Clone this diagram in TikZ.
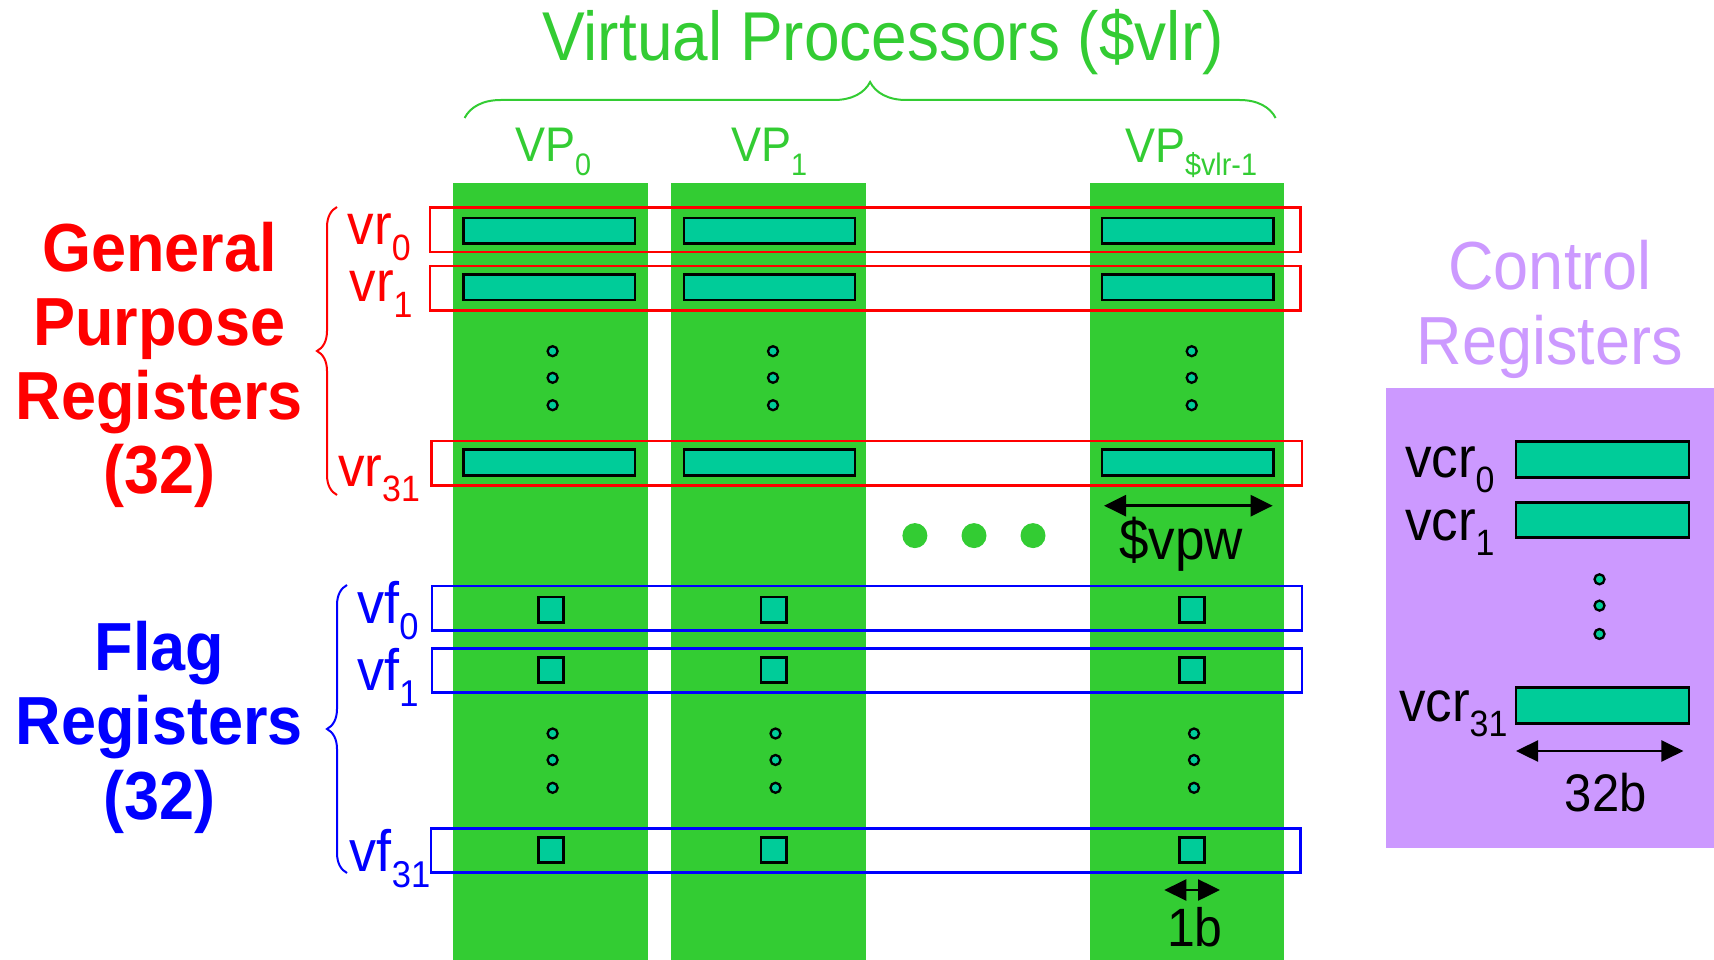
\documentclass[tikz,border=0pt]{standalone}
\usepackage{fontspec}
\setmainfont{Liberation Sans}
\usepackage{graphicx}
\usetikzlibrary{arrows.meta,decorations.pathreplacing}
\definecolor{vgreen}{HTML}{33CC33}
\definecolor{regteal}{HTML}{00CC99}
\definecolor{vred}{HTML}{FF0000}
\definecolor{vblue}{HTML}{0000FF}
\definecolor{cpurple}{HTML}{CC99FF}
\newcommand{\vs}[1]{\scalebox{1}[1.08]{#1}}
\newcommand{\lowsub}[1]{\raisebox{-0.27em}{\scalebox{0.64}{#1}}}
\newcommand{\fsz}[1]{\fontsize{#1}{#1}\selectfont}
\begin{document}
\begin{tikzpicture}[x=1pt,y=-1pt,
  lbl/.style={inner sep=0pt, outer sep=0pt},
  vpcol/.style={fill=vgreen},
  rrow/.style={draw=vred, line width=2.5pt},
  brow/.style={draw=vblue, line width=2.5pt},
  regbar/.style={fill=regteal, draw=black, line width=2.8pt},
  flagbit/.style={fill=regteal, draw=black, line width=2.8pt},
  smalldot/.style={fill=regteal, draw=black, line width=2.3pt},
  bigdot/.style={fill=vgreen},
  dimarrow/.style={{Triangle[length=22pt,width=21pt]}-{Triangle[length=22pt,width=21pt]}, line width=2.5pt},
  bracestyle/.style={decorate, line width=2pt},
  ]
\useasboundingbox (0,0) rectangle (1714,960);

% title and top brace
\node[lbl, anchor=base, text=vgreen, font=\fsz{64}] (title) at (883,60.5) {\vs{Virtual Processors (\$vlr)}};
\draw[bracestyle, vgreen, decoration={brace, amplitude=36pt}] (464.6,118) -- (1275.6,118);

% VP labels
\node[lbl, anchor=base west, text=vgreen, font=\fsz{45}] (vp0) at (515,162) {\vs{VP\lowsub{0}}};
\node[lbl, anchor=base west, text=vgreen, font=\fsz{45}] (vp1) at (731,162) {\vs{VP\lowsub{1}}};
\node[lbl, anchor=base west, text=vgreen, font=\fsz{45}] (vpn) at (1125,162.7) {\vs{VP\lowsub{\$vlr-1}}};

% columns
\fill[vpcol] (453,183.5) rectangle (647.5,960);
\fill[vpcol] (671.2,183.5) rectangle (865.6,960);
\fill[vpcol] (1089.7,183.5) rectangle (1284.3,960);

% general purpose register rows
\draw[rrow] (430,207.5) rectangle (1300.5,252);
\draw[rrow] (430,266) rectangle (1300.5,310.5);
\draw[rrow] (431.5,441) rectangle (1302,485.5);
\foreach \xa/\xb in {463.7/635, 684/855, 1102/1273.3} {
  \draw[regbar] (\xa,218) rectangle (\xb,243.3);
  \draw[regbar] (\xa,274.5) rectangle (\xb,300);
  \draw[regbar] (\xa,449.7) rectangle (\xb,475.7);
}
\foreach \cx in {552.6,773,1191.7} \foreach \cy in {351.2,377.8,405.2}
  \draw[smalldot] (\cx,\cy) circle[radius=5pt];

% flag register rows
\draw[brow] (432,586) rectangle (1302,630.7);
\draw[brow] (432,648.3) rectangle (1302,692.7);
\draw[brow] (431,828.3) rectangle (1300.7,872.7);
\foreach \cx in {550.7,773.6,1192} \foreach \cy in {609.5,670,850}
  \draw[flagbit] (\cx-12.6,\cy-12.6) rectangle (\cx+12.6,\cy+12.6);
\foreach \cx in {552.6,775.5,1194} \foreach \cy in {733.5,760,787.8}
  \draw[smalldot] (\cx,\cy) circle[radius=5pt];

% ellipsis between columns
\foreach \cx in {914.9,974,1033} \fill[bigdot] (\cx,535.6) circle[radius=12.5pt];

% $vpw
\coordinate (vpwL) at (1104,505.7);
\coordinate (vpwR) at (1272.7,505.7);
\draw[dimarrow] (vpwL) -- (vpwR);
\node[lbl, anchor=base, font=\fsz{53}] (vpw) at (1181,559) {\vs{\$vpw}};

% 1b
\coordinate (obL) at (1164.3,890);
\coordinate (obR) at (1220,890);
\draw[dimarrow] (obL) -- (obR);
\node[lbl, anchor=base, font=\fsz{50}] (oneb) at (1194.8,946.7) {\vs{1b}};

% left braces and labels
\draw[bracestyle, vred, decoration={brace, amplitude=20pt}] (337,495) -- (337,207);
\draw[bracestyle, vblue, decoration={brace, amplitude=20pt}] (347,873) -- (347,585);

\node[lbl, anchor=base west, text=vred, font=\fsz{53}] (vr0) at (347.8,245) {\vs{vr\lowsub{0}}};
\node[lbl, anchor=base west, text=vred, font=\fsz{53}] (vr1) at (349.5,301.7) {\vs{vr\lowsub{1}}};
\node[lbl, anchor=base west, text=vred, font=\fsz{53}] (vr31) at (338,486) {\vs{vr\lowsub{31}}};

\node[lbl, anchor=base west, text=vblue, font=\fsz{54}] (vf0) at (357.4,623.3) {\vs{vf\lowsub{0}}};
\node[lbl, anchor=base west, text=vblue, font=\fsz{54}] (vf1) at (357.4,690.5) {\vs{vf\lowsub{1}}};
\node[lbl, anchor=base west, text=vblue, font=\fsz{54}] (vf31) at (349.8,871.7) {\vs{vf\lowsub{31}}};

\node[lbl, anchor=base, text=vred, font={\fontsize{63}{68.6}\selectfont\bfseries}] (gpr) at (159.5,271.7)
  {\vs{\begin{tabular}[t]{@{}c@{}}General\\Purpose\\Registers\\(32)\end{tabular}}};
\node[lbl, anchor=base, text=vblue, font={\fontsize{63}{69.4}\selectfont\bfseries}] (flr) at (159.5,670)
  {\vs{\begin{tabular}[t]{@{}c@{}}Flag\\Registers\\(32)\end{tabular}}};

% control registers
\node[lbl, anchor=base, text=cpurple, font={\fontsize{63}{68.8}\selectfont}] (ctl) at (1550,289.7)
  {\vs{\begin{tabular}[t]{@{}c@{}}Control\\Registers\end{tabular}}};
\fill[cpurple] (1386,388) rectangle (1714,848.3);
\draw[regbar] (1516,441.6) rectangle (1689,477.7);
\draw[regbar] (1516,502.8) rectangle (1689,537.8);
\draw[regbar] (1516,687.6) rectangle (1689,723.6);
\node[lbl, anchor=base west, font=\fsz{53}] (vcr0) at (1405,477.5) {\vs{vcr\lowsub{0}}};
\node[lbl, anchor=base west, font=\fsz{53}] (vcr1) at (1405,540) {\vs{vcr\lowsub{1}}};
\node[lbl, anchor=base west, font=\fsz{53}] (vcr31) at (1399,721) {\vs{vcr\lowsub{31}}};
\foreach \cy in {579.3,605.6,634}
  \draw[smalldot] (1599.5,\cy) circle[radius=5pt];
\coordinate (cbL) at (1516,751);
\coordinate (cbR) at (1683.4,751);
\draw[dimarrow] (cbL) -- (cbR);
\node[lbl, anchor=base, font=\fsz{49}] (tt) at (1605.7,811) {\vs{32b}};
\end{tikzpicture}
\end{document}
